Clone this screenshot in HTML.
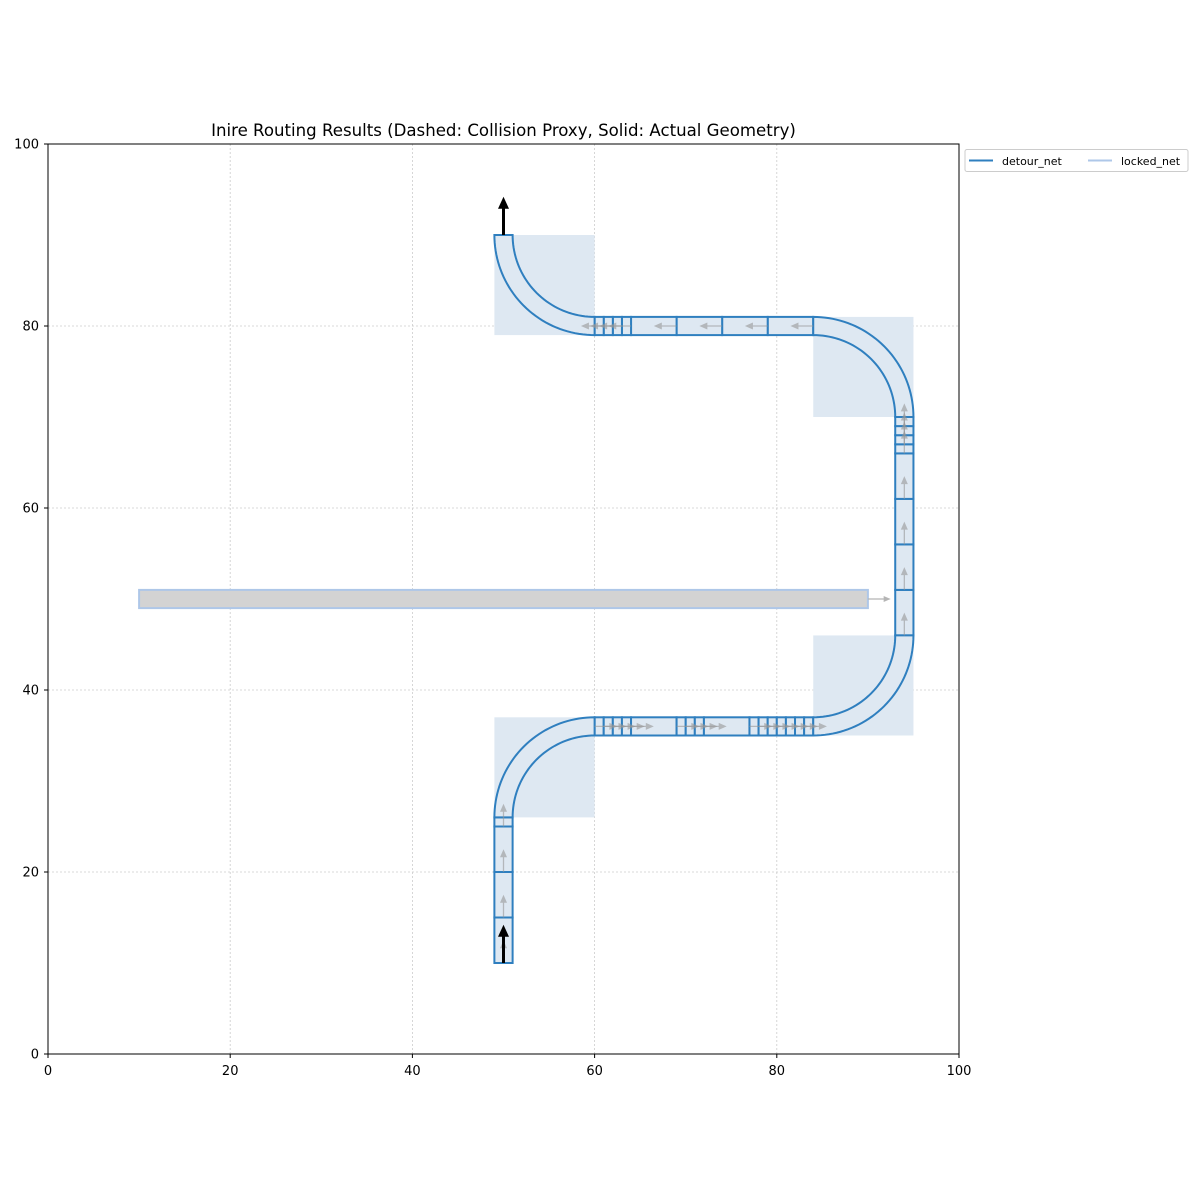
<!DOCTYPE html>
<html><head><meta charset="utf-8">
<style>
html,body{margin:0;padding:0;background:#fff;}
svg{display:block;font-family:"DejaVu Sans","Liberation Sans",sans-serif;}
</style></head>
<body>
<svg id="chart" width="1200" height="1200" viewBox="0 0 1200 1200" xmlns="http://www.w3.org/2000/svg">
<rect width="1200" height="1200" fill="#fff"/>
<g id="grid"></g>
<g id="boxes"></g>
<g id="locked"></g>
<g id="route"></g>
<g id="arrows"></g>
<rect x="48" y="144" width="911" height="910" fill="none" stroke="#000" stroke-width="1"/>
<g id="ticks" font-size="13"></g>
<text x="503.5" y="136" text-anchor="middle" font-size="16.6">Inire Routing Results (Dashed: Collision Proxy, Solid: Actual Geometry)</text>
<g>
<rect x="965" y="149.5" width="223" height="22" rx="2" fill="#fff" stroke="#ccc"/>
<line x1="969" y1="160.5" x2="993" y2="160.5" stroke="#2f7fbf" stroke-width="2"/>
<text x="1002" y="165" font-size="11">detour_net</text>
<line x1="1088" y1="160.5" x2="1112" y2="160.5" stroke="#aec7e8" stroke-width="2"/>
<text x="1121" y="165" font-size="11">locked_net</text>
</g>
</svg>
<script>
const xTicks=[0,20,40,60,80,100];
const yTicks=[0,20,40,60,80,100];
const segVert1=[10,15,20,25,26];
const segHorz1=[60,61,62,63,64,69,70,71,72,77,78,79,80,81,82,83,84];
const segVert2=[46,51,56,61,66,67,68,69,70];
const segHorz2=[84,79,74,69,64,63,62,61,60];
const bends=[[60,26,180,90],[84,46,270,360],[84,70,0,90],[60,90,270,180]];
const bendBoxes=[[49,60,26,37],[84,95,35,46],[84,95,70,81],[49,60,79,90]];
const lockedRect=[10,90,49,51];
const NS='http://www.w3.org/2000/svg';
const X=v=>48+v*9.11, Y=v=>1054-v*9.1;
function mk(tag,attrs,parent){const e=document.createElementNS(NS,tag);for(const k in attrs)e.setAttribute(k,attrs[k]);document.getElementById(parent).appendChild(e);return e;}
const BLUE='#2f7fbf', FILL='#dee8f2';
xTicks.slice(1,-1).forEach(t=>{const e=mk('line',{x1:X(t),x2:X(t),y1:144,y2:1054,stroke:'#ccc','stroke-dasharray':'2,2','stroke-width':0.8},'grid');
});
yTicks.slice(1,-1).forEach(t=>{const e=mk('line',{x1:48,x2:959,y1:Y(t),y2:Y(t),stroke:'#ccc','stroke-dasharray':'2,2','stroke-width':0.8},'grid');
});
xTicks.forEach(t=>{mk('line',{x1:X(t),x2:X(t),y1:1054,y2:1058,stroke:'#000'},'ticks');
const e=mk('text',{x:X(t),y:1075,'text-anchor':'middle'},'ticks');e.textContent=t;
});
yTicks.forEach(t=>{mk('line',{x1:44,x2:48,y1:Y(t),y2:Y(t),stroke:'#000'},'ticks');
const e=mk('text',{x:39,y:Y(t)+4.5,'text-anchor':'end'},'ticks');e.textContent=t;
});
bendBoxes.forEach(b=>{const e=mk('rect',{x:X(b[0]),y:Y(b[3]),width:X(b[1])-X(b[0]),height:Y(b[2])-Y(b[3]),fill:FILL},'boxes');
});
{const e=mk('rect',{x:X(lockedRect[0]),y:Y(lockedRect[3]),width:X(lockedRect[1])-X(lockedRect[0]),height:Y(lockedRect[2])-Y(lockedRect[3]),fill:'#d3d3d3',stroke:'#aec7e8','stroke-width':2},'locked');
}
function arrow(x0,y0,x1,y1,color,w,hw,hl,name){
  const px0=X(x0),py0=Y(y0),px1=X(x1),py1=Y(y1);
  const dx=px1-px0,dy=py1-py0,L=Math.hypot(dx,dy),ux=dx/L,uy=dy/L;
  const bx=px1-ux*hl,by=py1-uy*hl;
  const e=mk('path',{d:`M${px0-uy*w/2},${py0+ux*w/2} L${bx-uy*w/2},${by+ux*w/2} L${bx-uy*hw},${by+ux*hw} L${px1},${py1} L${bx+uy*hw},${by-ux*hw} L${bx+uy*w/2},${by-ux*w/2} L${px0+uy*w/2},${py0-ux*w/2} Z`,fill:color},'arrows');
  
}
arrow(lockedRect[1],50,lockedRect[1]+2.5,50,'#b5b5b5',1.2,3,7,'locked-direction-arrow');
function straight(a,b,fixed,vertical){
  const x0=vertical?fixed-1:Math.min(a,b), x1=vertical?fixed+1:Math.max(a,b);
  const y0=vertical?Math.min(a,b):fixed-1, y1=vertical?Math.max(a,b):fixed+1;
  const e=mk('rect',{x:X(x0),y:Y(y1),width:X(x1)-X(x0),height:Y(y0)-Y(y1),fill:FILL,stroke:BLUE,'stroke-width':2},'route');
  
  const d=Math.sign(b-a);
  if(vertical) arrow(fixed,a,fixed,a+2.5*d,'rgba(150,150,150,0.6)',1.3,3.5,8,'segment-direction-arrow');
  else arrow(a,fixed,a+2.5*d,fixed,'rgba(150,150,150,0.6)',1.3,3.5,8,'segment-direction-arrow');
}
function run(arr,fixed,vertical){for(let i=0;i<arr.length-1;i++)straight(arr[i],arr[i+1],fixed,vertical);}
run(segVert1,50,true);run(segHorz1,36,false);run(segVert2,94,true);run(segHorz2,80,false);
bends.forEach(b=>{
  const [cx,cy,a0,a1]=b,N=40,pts=[];
  for(let i=0;i<=N;i++){const a=(a0+(a1-a0)*i/N)*Math.PI/180;pts.push([X(cx+11*Math.cos(a)),Y(cy+11*Math.sin(a))]);}
  for(let i=N;i>=0;i--){const a=(a0+(a1-a0)*i/N)*Math.PI/180;pts.push([X(cx+9*Math.cos(a)),Y(cy+9*Math.sin(a))]);}
  const e=mk('path',{d:'M'+pts.map(p=>p[0].toFixed(2)+','+p[1].toFixed(2)).join(' L')+' Z',fill:FILL,stroke:BLUE,'stroke-width':2},'route');
  
});
arrow(50,10,50,14.2,'#000',3,5.5,12,'start-port-arrow');
arrow(50,90,50,94.2,'#000',3,5.5,12,'end-port-arrow');
</script>
</body></html>
